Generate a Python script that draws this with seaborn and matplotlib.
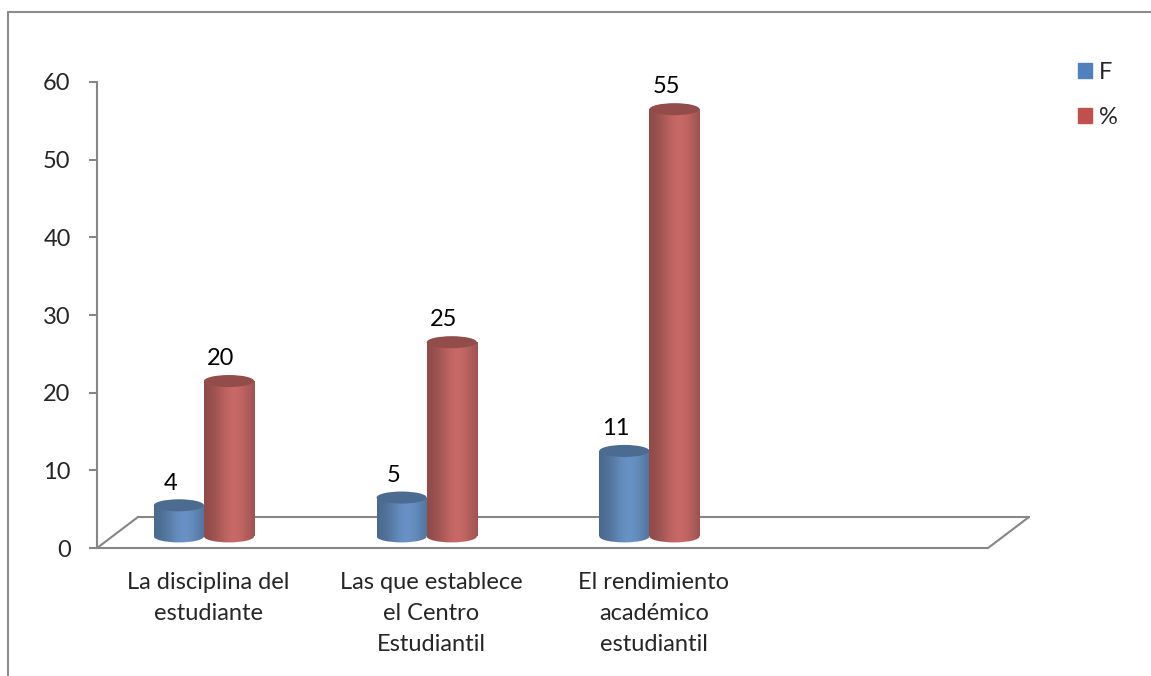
import numpy as np
import pandas as pd
import matplotlib.pyplot as plt
import seaborn as sns
from matplotlib.patches import Ellipse, Patch
from matplotlib.lines import Line2D
from matplotlib.colors import to_rgb

# datos del grafico
categorias = ["La disciplina del\nestudiante",
              "Las que establece\nel Centro\nEstudiantil",
              "El rendimiento\nacadémico\nestudiantil",
              ""]
series = ["F", "%"]
valores_f = [4, 5, 11]
valores_pct = [20, 25, 55]
colores = ["#4F81BD", "#C0504D"]

sns.set_style("white")
plt.rcParams['font.family'] = ['Lato', 'DejaVu Sans']
fs = 17

df = pd.DataFrame({
    "categoria": categorias[:3] * 2,
    "serie": ["F"] * 3 + ["%"] * 3,
    "valor": valores_f + valores_pct,
})

fig = plt.figure(figsize=(11.51, 6.76), dpi=100)
ax = fig.add_axes([0.0843, 0.1893, 0.7741, 0.6894])
sns.barplot(data=df, x="categoria", y="valor", hue="serie", order=categorias,
            hue_order=series, palette=colores, width=0.45, legend=False,
            errorbar=None, ax=ax)

gris = "#868686"
base = 1.5      # desplazamiento por la perspectiva 3D
ell_h = 1.55    # alto de la elipse (unidades del eje)

def gradiente(rgb, n=60):
    t = np.linspace(0, 1, n)
    m = 0.78 + 0.34 * np.exp(-((t - 0.6) / 0.38) ** 2)
    img = np.clip(np.outer(m, rgb), 0, 1)
    return img[np.newaxis, :, :]

for bar in list(ax.patches):
    rgb = np.array(to_rgb(bar.get_facecolor()))
    x, w, h = bar.get_x() - 0.02, bar.get_width(), bar.get_height()
    bar.set_x(x)
    bar.set_y(base)
    bar.set_facecolor("none")
    bar.set_edgecolor("none")
    img = gradiente(rgb)
    im = ax.imshow(img, extent=[x, x + w, base, base + h], aspect="auto",
                   zorder=2.5, interpolation="bilinear")
    im.set_clip_path(bar)
    # fondo redondeado del cilindro
    fondo = Ellipse((x + w / 2, base), w, ell_h, facecolor="none", edgecolor="none")
    ax.add_patch(fondo)
    im2 = ax.imshow(img, extent=[x, x + w, base - ell_h, base + ell_h], aspect="auto",
                    zorder=2.5, interpolation="bilinear")
    im2.set_clip_path(fondo)
    # tapa superior
    ax.add_patch(Ellipse((x + w / 2, base + h), w, ell_h, facecolor=rgb * 0.82,
                         edgecolor="none", zorder=3))
    ax.annotate(f"{h:g}", (x + w / 2, base + h), xytext=(-6, 16),
                textcoords="offset points", ha="center", va="center",
                fontsize=fs, color="black")

# piso en perspectiva
dx = 0.184
ax.plot([-0.5 + dx, 3.5 + dx], [4, 4], color=gris, lw=1.5, zorder=1, clip_on=False)
ax.plot([-0.5, -0.5 + dx], [0, 4], color=gris, lw=1.5, zorder=1, clip_on=False)
ax.plot([3.5, 3.5 + dx], [0, 4], color=gris, lw=1.5, zorder=1, clip_on=False)

ax.set_xlim(-0.5, 3.5)
ax.set_ylim(0, 60)
ax.set_yticks(range(0, 61, 10))
ax.set_xticks([-0.5, 0.5, 1.5, 2.5, 3.5])
ax.set_xticklabels([])
ax.set_xticks(range(4), minor=True)
ax.set_xticklabels(categorias, minor=True, fontsize=fs, linespacing=1.6)
ax.tick_params(axis="x", which="major", length=8, width=1.5, color=gris, direction="out")
ax.tick_params(axis="x", which="minor", length=0, pad=17)
ax.tick_params(axis="y", length=6, width=1.5, color=gris, direction="out",
               labelsize=fs, pad=13, left=True)
ax.set_xlabel("")
ax.set_ylabel("")
for s in ["top", "right"]:
    ax.spines[s].set_visible(False)
for s in ["left", "bottom"]:
    ax.spines[s].set_color(gris)
    ax.spines[s].set_linewidth(1.5)

fig.legend(handles=[Patch(color=colores[0], label=series[0]),
                    Patch(color=colores[1], label=series[1])],
           loc="upper left", bbox_to_anchor=(1066 / 1151, 1 - 50 / 676),
           frameon=False, handlelength=0.6, handleheight=0.6,
           handletextpad=0.3, labelspacing=1.03, fontsize=fs, borderpad=0)

# marco del area del grafico
fig.add_artist(Line2D([8 / 1151, 8 / 1151], [1 - 12 / 676, 0], color="#8c8c8c",
                      lw=1.5, transform=fig.transFigure))
fig.add_artist(Line2D([8 / 1151, 1], [1 - 12 / 676, 1 - 12 / 676], color="#8c8c8c",
                      lw=1.5, transform=fig.transFigure))

fig.savefig("out.png", dpi=100)
